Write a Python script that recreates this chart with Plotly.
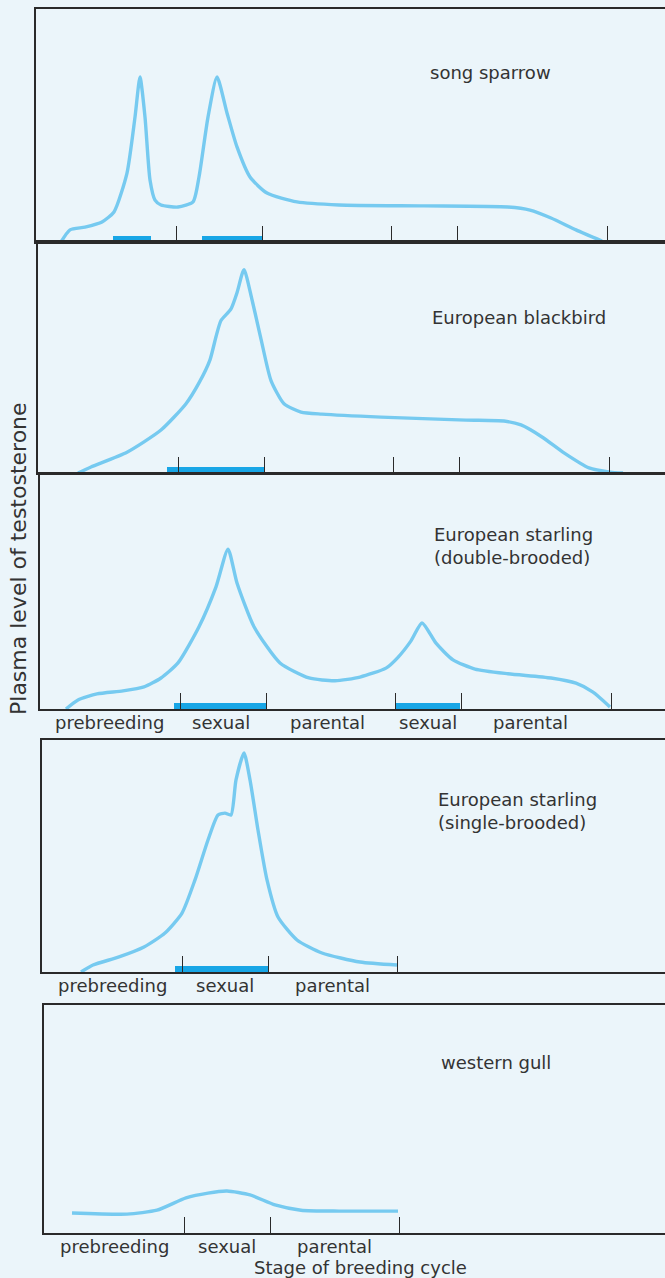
import plotly.graph_objects as go

# ---------------- data (x: stage-time units, y: relative testosterone level 0-100) -------------
species = ["song sparrow", "European blackbird", "European starling<br>(double-brooded)",
           "European starling<br>(single-brooded)", "western gull"]

sparrow_x = [25, 34, 49, 66, 78, 91, 99, 104, 109, 114, 119, 125, 142, 157, 163, 172, 181,
             191, 201, 214, 231, 261, 303, 388, 472, 494, 515, 540, 566]
sparrow_y = [0, 5.2, 6.4, 8.6, 12.9, 29.6, 53.6, 70.8, 53.6, 26.6, 18.0, 15.9, 15.0, 17.2, 27.9,
             53.6, 70.8, 55.4, 40.8, 27.9, 21.0, 17.2, 15.9, 15.5, 15.0, 13.7, 10.3, 5.2, 0.4]

blackbird_x = [40, 53, 89, 123, 148, 161, 172, 178, 183, 193, 199, 206, 214, 223, 233, 246,
               263, 284, 343, 428, 466, 483, 504, 526, 551, 572, 585]
blackbird_y = [0, 2.6, 9, 18.6, 30, 39, 49, 59, 66, 71, 78, 88, 75, 58, 40, 30,
               26.4, 25.5, 24.2, 22.9, 22.5, 20.8, 15.6, 8.7, 2.2, 0.4, 0]

starling2_x = [26, 38, 57, 83, 104, 121, 138, 159, 176, 188, 197, 214, 240, 269, 295, 320, 346,
               358, 371, 382, 396, 413, 435, 468, 511, 536, 553, 570]
starling2_y = [0, 3.8, 6.4, 7.7, 9.4, 13.2, 19.6, 35, 52, 68, 53.6, 35, 19.6, 13.2, 12, 13.6, 17.4,
               22, 29, 36.6, 28, 20.9, 17, 15, 13.2, 11, 7.2, 0.9]

starling1_x = [39, 51, 77, 102, 123, 140, 153, 166, 176, 183, 189, 194, 202, 208, 216, 225, 236,
               255, 280, 318, 355]
starling1_y = [0, 3, 6.5, 10.8, 16.8, 25.4, 39.7, 56.9, 67.7, 68.5, 67.7, 82.8, 94.4, 82.8, 61.2,
               39.7, 23.7, 13.8, 8.2, 4.3, 3]

gull_x = [28, 83, 113, 142, 164, 183, 206, 231, 257, 295, 354]
gull_y = [8.8, 8.3, 10, 15.4, 17.5, 18.4, 16.7, 12.3, 10, 9.6, 9.6]

# stage boundaries (ticks) and sexual-phase bars (start, end)
ticks_long = [140, 226, 355, 421, 571]
ticks_short = [140, 226, 355]
sparrow_bars = [(77, 115), (166, 226)]
blackbird_bars = [(129, 226)]
starling2_bars = [(134, 226), (355, 420)]
starling1_bars = [(133, 227)]
gull_bars = []

stage_long = ["prebreeding", "sexual", "parental", "sexual", "parental"]
stage_short = ["prebreeding", "sexual", "parental"]
stage_long_pos = [69, 181, 287, 388, 490]
stage_short_pos = [70, 183, 290]

y_title = "Plasma level of testosterone"
x_title = "Stage of breeding cycle"

# ---------------- layout ----------------
W, H = 665, 1278
BG = "#ebf5fa"
LINE = "#76caf0"
BAR = "#18a6e6"
AX = "#2a2a2a"
TXT = "#333333"
FONT = "DejaVu Sans"

# panel: (left px, top px, bottom px)
panels = [(36, 9, 242), (38, 242, 473), (40, 474, 709), (42, 740, 972), (44, 1005, 1233)]
series = [(sparrow_x, sparrow_y, sparrow_bars, ticks_long),
          (blackbird_x, blackbird_y, blackbird_bars, ticks_long),
          (starling2_x, starling2_y, starling2_bars, ticks_long),
          (starling1_x, starling1_y, starling1_bars, ticks_short),
          (gull_x, gull_y, gull_bars, ticks_short)]
label_pos = [(428, 72), (430, 317), (432, 546), (436, 811), (439, 1062)]  # px of species labels

fig = go.Figure()
layout = dict(width=W, height=H, margin=dict(l=0, r=0, t=0, b=0),
              paper_bgcolor=BG, plot_bgcolor=BG, showlegend=False,
              font=dict(family=FONT, color=TXT, size=18), bargap=0)
annotations = []

for i, ((left, top, bot), (sx, sy, bars, tks)) in enumerate(zip(panels, series)):
    n = i + 1
    xa = "x" if n == 1 else f"x{n}"
    ya = "y" if n == 1 else f"y{n}"
    xkey = "xaxis" if n == 1 else f"xaxis{n}"
    ykey = "yaxis" if n == 1 else f"yaxis{n}"
    xmax = W - left
    layout[xkey] = dict(domain=[left / W, 1], range=[0, xmax], anchor=ya,
                        showline=True, mirror=True, linecolor=AX, linewidth=1.6,
                        ticks="inside", ticklen=16, tickwidth=1.3, tickcolor=AX,
                        tickvals=tks, showticklabels=False, showgrid=False, zeroline=False)
    layout[ykey] = dict(domain=[1 - bot / H, 1 - top / H], range=[0, 100], anchor=xa,
                        showline=True, linecolor=AX, linewidth=1.6, showticklabels=False,
                        ticks="", showgrid=False, zeroline=False)
    if bars:
        fig.add_trace(go.Bar(x=[(a + b) / 2 for a, b in bars], y=[2.7] * len(bars),
                             width=[b - a for a, b in bars], base=0, marker_color=BAR,
                             marker_line_width=0, xaxis=xa, yaxis=ya))
    fig.add_trace(go.Scatter(x=sx, y=sy, mode="lines", xaxis=xa, yaxis=ya,
                             line=dict(color=LINE, width=3.4, shape="spline", smoothing=0.6)))
    lx, ly = label_pos[i]
    annotations.append(dict(text=species[i], x=lx / W, y=1 - ly / H, xref="paper",
                            yref="paper", xanchor="left", yanchor="middle", showarrow=False,
                            align="left", font=dict(size=18, color=TXT)))

# stage labels under panels 3, 4 and 5
for n, labels, pos in [(3, stage_long, stage_long_pos), (4, stage_short, stage_short_pos),
                       (5, stage_short, stage_short_pos)]:
    for lab, p in zip(labels, pos):
        annotations.append(dict(text=lab, x=p, xref=f"x{n}", y=0, yref=f"y{n} domain",
                                xanchor="center", yanchor="top", yshift=-1, showarrow=False,
                                font=dict(size=18, color=TXT)))

annotations.append(dict(text=y_title, x=18 / W, y=1 - 559 / H, xref="paper", yref="paper",
                        xanchor="center", yanchor="middle",
                        textangle=-90, showarrow=False, font=dict(size=22, color=TXT)))
annotations.append(dict(text=x_title, x=360 / W, y=1 - 1267 / H, xref="paper", yref="paper",
                        xanchor="center", yanchor="middle",
                        showarrow=False, font=dict(size=18, color=TXT)))
layout["annotations"] = annotations
fig.update_layout(**layout)
fig.write_html("out.html", config={"displayModeBar": False},
               post_script="document.body.style.margin='0';document.body.style.background='%s';" % BG)
